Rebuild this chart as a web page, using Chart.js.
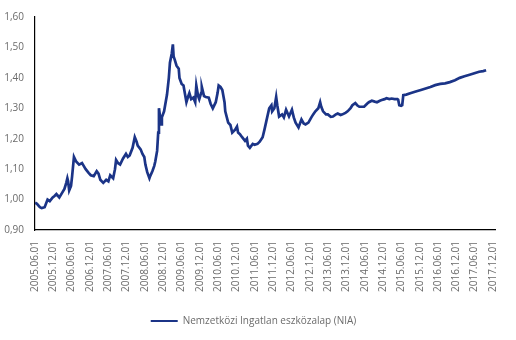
<!DOCTYPE html>
<html>
<head>
<meta charset="utf-8">
<script src="https://cdn.jsdelivr.net/npm/chart.js@4"></script>
<style>
  html, body { margin: 0; padding: 0; background: #fff; }
  #wrap { width: 516px; height: 340px; }
</style>
</head>
<body>
<div id="wrap"><canvas id="c" width="516" height="340"></canvas></div>
<script>
// Time in decimal years
const times = [
  2005.42, 2005.47, 2005.55, 2005.60, 2005.68, 2005.76, 2005.82, 2005.90, 2005.95, 2006.00,
  2006.08, 2006.16, 2006.22, 2006.27, 2006.30, 2006.32, 2006.35, 2006.40, 2006.43, 2006.48,
  2006.54, 2006.62, 2006.70, 2006.75, 2006.80, 2006.88, 2006.94, 2007.02, 2007.10, 2007.15,
  2007.20, 2007.28, 2007.36, 2007.42, 2007.47, 2007.55, 2007.60, 2007.63, 2007.68, 2007.74,
  2007.82, 2007.90, 2007.95, 2008.00, 2008.08, 2008.14, 2008.19, 2008.22, 2008.30, 2008.35,
  2008.40, 2008.43, 2008.48, 2008.54, 2008.56, 2008.62, 2008.67, 2008.70, 2008.75, 2008.78,
  2008.80, 2008.86, 2008.88, 2008.94, 2009.02, 2009.07, 2009.10, 2009.15, 2009.18, 2009.20,
  2009.23, 2009.28, 2009.34, 2009.36, 2009.42, 2009.47, 2009.55, 2009.60, 2009.63, 2009.68,
  2009.74, 2009.79, 2009.82, 2009.87, 2009.90, 2009.95, 2009.97, 2010.03, 2010.08, 2010.16,
  2010.21, 2010.27, 2010.35, 2010.40, 2010.43, 2010.48, 2010.53, 2010.59, 2010.61, 2010.69,
  2010.75, 2010.80, 2010.88, 2010.93, 2010.96, 2011.01, 2011.07, 2011.15, 2011.20, 2011.23,
  2011.28, 2011.36, 2011.41, 2011.49, 2011.55, 2011.63, 2011.68, 2011.73, 2011.81, 2011.87,
  2011.89, 2011.95, 2012.00, 2012.03, 2012.08, 2012.16, 2012.21, 2012.27, 2012.35, 2012.43,
  2012.48, 2012.53, 2012.61, 2012.69, 2012.75, 2012.80, 2012.88, 2012.96, 2013.01, 2013.07,
  2013.15, 2013.20, 2013.23, 2013.28, 2013.36, 2013.41, 2013.49, 2013.55, 2013.63, 2013.68,
  2013.76, 2013.81, 2013.89, 2013.95, 2014.03, 2014.08, 2014.16, 2014.21, 2014.27, 2014.35,
  2014.40, 2014.48, 2014.53, 2014.61, 2014.69, 2014.75, 2014.83, 2014.88, 2014.96, 2015.01,
  2015.09, 2015.15, 2015.23, 2015.31, 2015.33, 2015.36, 2015.41, 2015.44, 2015.47, 2015.55,
  2015.68, 2015.81, 2015.95, 2016.08, 2016.21, 2016.34, 2016.48, 2016.61, 2016.74, 2016.88,
  2017.01, 2017.14, 2017.28, 2017.41, 2017.54, 2017.65, 2017.73
];

// Unit price values
const niaValues = [
  0.990, 0.986, 0.975, 0.972, 0.975, 1.000, 0.995, 1.007, 1.012, 1.018,
  1.007, 1.023, 1.035, 1.055, 1.070, 1.060, 1.030, 1.045, 1.077, 1.140,
  1.125, 1.115, 1.120, 1.110, 1.100, 1.088, 1.080, 1.077, 1.093, 1.085,
  1.065, 1.055, 1.065, 1.060, 1.080, 1.070, 1.100, 1.130, 1.120, 1.115,
  1.135, 1.150, 1.140, 1.145, 1.170, 1.205, 1.190, 1.177, 1.165, 1.150,
  1.140, 1.115, 1.090, 1.070, 1.077, 1.093, 1.110, 1.125, 1.160, 1.220,
  1.300, 1.247, 1.270, 1.290, 1.345, 1.400, 1.450, 1.480, 1.510, 1.470,
  1.460, 1.440, 1.430, 1.400, 1.380, 1.375, 1.320, 1.340, 1.350, 1.330,
  1.335, 1.320, 1.375, 1.340, 1.330, 1.350, 1.370, 1.340, 1.337, 1.335,
  1.315, 1.300, 1.320, 1.350, 1.375, 1.370, 1.360, 1.320, 1.290, 1.253,
  1.245, 1.220, 1.230, 1.240, 1.220, 1.215, 1.205, 1.193, 1.200, 1.177,
  1.170, 1.183, 1.180, 1.183, 1.190, 1.205, 1.230, 1.257, 1.300, 1.310,
  1.290, 1.300, 1.337, 1.310, 1.273, 1.280, 1.270, 1.295, 1.273, 1.295,
  1.270, 1.253, 1.237, 1.263, 1.250, 1.247, 1.253, 1.270, 1.280, 1.290,
  1.300, 1.320, 1.305, 1.290, 1.280, 1.280, 1.272, 1.273, 1.280, 1.283,
  1.278, 1.280, 1.285, 1.290, 1.300, 1.310, 1.317, 1.310, 1.305, 1.305,
  1.305, 1.315, 1.320, 1.325, 1.322, 1.320, 1.325, 1.327, 1.330, 1.333,
  1.330, 1.332, 1.330, 1.330, 1.328, 1.310, 1.308, 1.310, 1.343, 1.345,
  1.350, 1.355, 1.360, 1.365, 1.370, 1.376, 1.380, 1.382, 1.386, 1.392,
  1.400, 1.405, 1.410, 1.415, 1.420, 1.422, 1.425
];

const tickLabels = [
  '2005.06.01', '2005.12.01', '2006.06.01', '2006.12.01', '2007.06.01', '2007.12.01',
  '2008.06.01', '2008.12.01', '2009.06.01', '2009.12.01', '2010.06.01', '2010.12.01',
  '2011.06.01', '2011.12.01', '2012.06.01', '2012.12.01', '2013.06.01', '2013.12.01',
  '2014.06.01', '2014.12.01', '2015.06.01', '2015.12.01', '2016.06.01', '2016.12.01',
  '2017.06.01', '2017.12.01'
];

const seriesName = 'Nemzetközi Ingatlan eszközalap (NIA)';

function labelToYear(s) {
  const p = s.split('.');
  return Number(p[0]) + (Number(p[1]) - 1) / 12;
}
const tickValues = tickLabels.map(labelToYear);
const labelByValue = new Map(tickValues.map((v, i) => [v.toFixed(4), tickLabels[i]]));

const lineColor = '#1b3487';
const textColor = '#6b6b6b';
const fontFamily = "'Open Sans', 'Noto Sans', sans-serif";

new Chart(document.getElementById('c'), {
  type: 'line',
  data: {
    datasets: [{
      label: seriesName,
      data: times.map((t, i) => ({ x: t, y: niaValues[i] })),
      borderColor: lineColor,
      backgroundColor: lineColor,
      borderWidth: 2.7,
      borderJoinStyle: 'miter',
      pointRadius: 0,
      tension: 0,
      fill: false
    }]
  },
  options: {
    responsive: false,
    animation: false,
    layout: { padding: { left: 0, right: 9, top: 10, bottom: 4 } },
    scales: {
      x: {
        type: 'linear',
        min: tickValues[0],
        max: 2018.0,
        afterBuildTicks: (scale) => {
          scale.ticks = tickValues.map(v => ({ value: v }));
        },
        afterFit: (scale) => { scale.height = 76; },
        grid: { display: false, drawTicks: false },
        border: { display: true, color: '#000', width: 1.2 },
        ticks: {
          autoSkip: false,
          minRotation: 90,
          maxRotation: 90,
          padding: 11,
          color: textColor,
          font: { family: fontFamily, size: 10 },
          callback: (v) => labelByValue.get(Number(v).toFixed(4)) || ''
        }
      },
      y: {
        min: 0.9,
        max: 1.6,
        afterFit: (scale) => { scale.width = 35; },
        grid: { display: false, drawTicks: false },
        border: { display: true, color: '#000', width: 1.2 },
        ticks: {
          stepSize: 0.1,
          padding: 11,
          color: textColor,
          font: { family: fontFamily, size: 10 },
          callback: (v) => Number(v).toFixed(2).replace('.', ',')
        }
      }
    },
    plugins: {
      tooltip: { enabled: false },
      legend: {
        display: true,
        position: 'bottom',
        labels: {
          boxWidth: 27,
          boxHeight: 2,
          padding: 10,
          color: textColor,
          font: { family: fontFamily, size: 10 },
          generateLabels: (chart) => chart.data.datasets.map((ds, i) => ({
            text: ds.label,
            fillStyle: ds.borderColor,
            strokeStyle: ds.borderColor,
            lineWidth: 0,
            hidden: false,
            datasetIndex: i,
            fontColor: textColor
          }))
        }
      }
    }
  }
});
</script>
</body>
</html>
